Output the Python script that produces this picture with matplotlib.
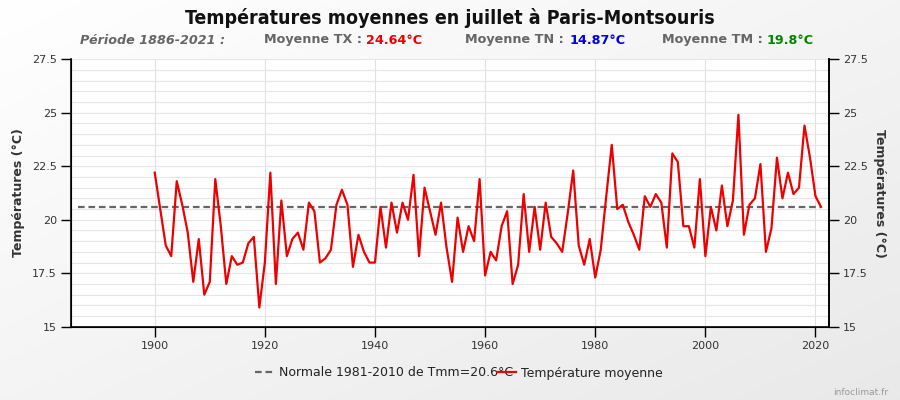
import numpy as np
import matplotlib.pyplot as plt
from matplotlib.colors import LinearSegmentedColormap

# données : température moyenne de juillet, Paris-Montsouris
years = list(range(1900, 2022))
tmoy = [22.2, 20.5, 18.8, 18.3, 21.8, 20.7, 19.4, 17.1, 19.1, 16.5,
        17.1, 21.9, 19.7, 17.0, 18.3, 17.9, 18.0, 18.9, 19.2, 15.9,
        18.0, 22.2, 17.0, 20.9, 18.3, 19.1, 19.4, 18.6, 20.8, 20.4,
        18.0, 18.2, 18.6, 20.7, 21.4, 20.7, 17.8, 19.3, 18.5, 18.0,
        18.0, 20.6, 18.7, 20.8, 19.4, 20.8, 20.0, 22.1, 18.3, 21.5,
        20.4, 19.3, 20.8, 18.7, 17.1, 20.1, 18.5, 19.7, 19.0, 21.9,
        17.4, 18.5, 18.1, 19.7, 20.4, 17.0, 17.9, 21.2, 18.5, 20.6,
        18.6, 20.8, 19.2, 18.9, 18.5, 20.3, 22.3, 18.8, 17.9, 19.1,
        17.3, 18.6, 21.1, 23.5, 20.5, 20.7, 19.9, 19.3, 18.6, 21.1,
        20.6, 21.2, 20.8, 18.7, 23.1, 22.7, 19.7, 19.7, 18.7, 21.9,
        18.3, 20.6, 19.5, 21.6, 19.7, 20.9, 24.9, 19.3, 20.7, 21.0,
        22.6, 18.5, 19.6, 22.9, 21.0, 22.2, 21.2, 21.5, 24.4, 22.9,
        21.1, 20.6]
normal_years = [1886, 2021]
normal_val = [20.6, 20.6]

yticks = [15, 17.5, 20, 22.5, 25, 27.5]
ytick_labels = ['15', '17.5', '20', '22.5', '25', '27.5']
xticks = [1900, 1920, 1940, 1960, 1980, 2000, 2020]

fig = plt.figure(figsize=(9, 4), dpi=100)

# fond en dégradé
bg = fig.add_axes([0, 0, 1, 1], zorder=-10)
grad = np.add.outer(np.linspace(0, 1, 200), np.linspace(0, 1, 400)) / 2
cmap = LinearSegmentedColormap.from_list('bg', ['#ffffff', '#e9e9e9'])
bg.imshow(grad, cmap=cmap, aspect='auto', extent=[0, 1, 0, 1], origin='upper')
bg.axis('off')

ax = fig.add_axes([0.0786, 0.183, 0.8428, 0.669])
ax.set_facecolor('white')
ax.plot(normal_years, normal_val, color='#666666', lw=1.6, ls=(0, (3, 1.7)),
        label='Normale 1981-2010 de Tmm=20.6°C', zorder=3)
ax.plot(years, tmoy, color='#ee0000', lw=1.6, label='Température moyenne', zorder=4)

ax.set_xlim(1884.75, 2022.5)
ax.set_ylim(15, 27.5)
ax.set_xticks(xticks)
ax.set_yticks(yticks)
ax.set_yticklabels(ytick_labels)
ax.set_yticks(np.arange(15, 27.6, 0.5), minor=True)
ax.grid(axis='y', which='both', color='#e6e6e6', lw=0.8)
ax.grid(axis='x', which='major', color='#e0e0e0', lw=0.8)
ax.tick_params(axis='y', which='minor', length=0)
ax.tick_params(which='major', direction='out', length=7, width=1,
               labelsize=8, labelcolor='#333333', pad=3)
ax.spines['top'].set_visible(False)
for s in ['left', 'right', 'bottom']:
    ax.spines[s].set_linewidth(1.2)
ax.set_ylabel('Températures (°C)', fontsize=9, fontweight='bold',
              color='#333333', labelpad=5)

ax2 = ax.twinx()
ax2.set_ylim(ax.get_ylim())
ax2.set_yticks(yticks)
ax2.set_yticklabels(ytick_labels)
ax2.tick_params(direction='out', length=7, width=1, labelsize=8,
                labelcolor='#333333', pad=3)
ax2.spines['top'].set_visible(False)
ax2.spines['right'].set_linewidth(1.2)
ax2.set_ylabel('Températures (°C)', fontsize=9, fontweight='bold',
               color='#333333', rotation=270, labelpad=13)

fig.text(0.5, 0.955, 'Températures moyennes en juillet à Paris-Montsouris',
         ha='center', va='center', fontsize=14, fontweight='bold',
         fontstretch='condensed', color='#111111')

fig.text(80 / 900, 0.9, 'Période 1886-2021 :', ha='left', va='center',
         fontsize=9.2, fontweight='bold', fontstyle='italic', color='#666666')

sub = [
    (362, 'Moyenne TX :', 366, '24.64°C', '#ee0000'),
    (564, 'Moyenne TN :', 570, '14.87°C', '#0000dd'),
    (763, 'Moyenne TM :', 767, '19.8°C', '#008800'),
]
for x, lab, xv, val, col in sub:
    fig.text(x / 900, 0.9, lab, ha='right', va='center', fontsize=9.2,
             fontweight='bold', color='#666666')
    fig.text(xv / 900, 0.9, val, ha='left', va='center', fontsize=9.2,
             fontweight='bold', color=col)

handles, labels = ax.get_legend_handles_labels()
fig.legend(handles, labels, loc='center', bbox_to_anchor=(0.51, 0.0675),
           ncol=2, frameon=False, fontsize=9, handlelength=1.5,
           handletextpad=0.4, columnspacing=-1.3, labelcolor='#222222')

fig.text(0.987, 0.018, 'infoclimat.fr', ha='right', va='center',
         fontsize=6.5, color='#999999')

fig.savefig('out.png', dpi=100)
